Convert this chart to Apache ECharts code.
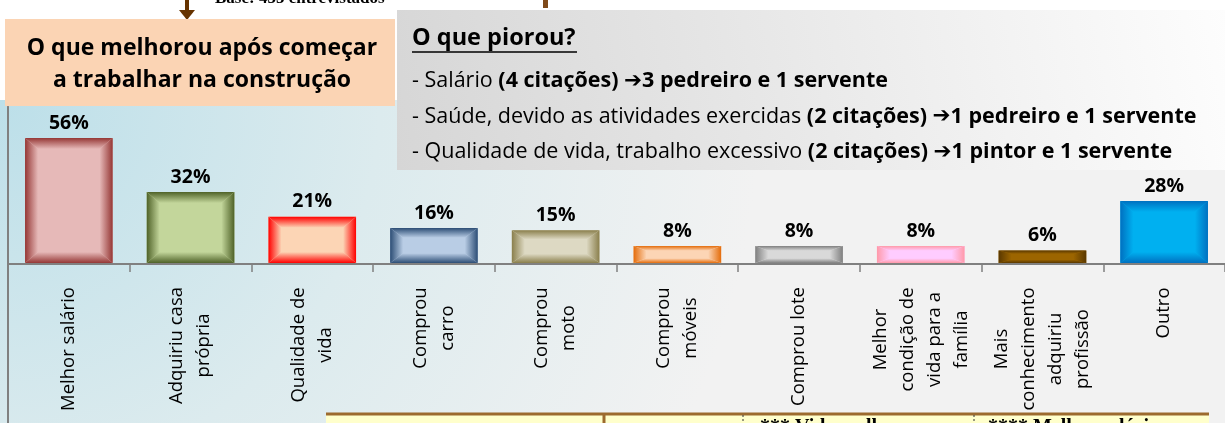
<!DOCTYPE html>
<html>
<head>
<meta charset="utf-8">
<script src="https://cdn.jsdelivr.net/npm/echarts@6/dist/echarts.min.js"></script>
<style>
html,body{margin:0;padding:0;background:#fff;}
#chart{width:1225px;height:423px;}
</style>
</head>
<body>
<div id="chart"></div>
<script>
// ---- data ----
const categories = [
  'Melhor salário',
  'Adquiriu casa\nprópria',
  'Qualidade de\nvida',
  'Comprou\ncarro',
  'Comprou\nmoto',
  'Comprou\nmóveis',
  'Comprou lote',
  'Melhor\ncondição de\nvida para a\nfamília',
  'Mais\nconhecimento\nadquiriu\nprofissão',
  'Outro'
];
const values = [56, 32, 21, 16, 15, 8, 8, 8, 6, 28];
const titleLines = ['O que melhorou após começar', 'a trabalhar na construção'];
const piorouTitle = 'O que piorou?';
const piorouRegular = ['- Salário ', '- Saúde, devido as atividades exercidas ', '- Qualidade de vida, trabalho excessivo '];
const piorouBold = ['(4 citações) ', '(2 citações) ', '(2 citações) '];
const piorouResult = ['3 pedreiro e 1 servente', '1 pedreiro e 1 servente', '1 pintor e 1 servente'];
const baseText = 'Base: 455 entrevistados';
const footerTexts = ['*** Vida melhor', '**** Melhor salário'];

// ---- styles ----
const barColors = [
  ['#953735', '#E6B9B8'],
  ['#4F6228', '#C3D69B'],
  ['#FF0000', '#FCD5B5'],
  ['#2C4D75', '#B9CDE5'],
  ['#8A7F4C', '#DDD9C3'],
  ['#E46C0A', '#FCD5B5'],
  ['#7F7F7F', '#D9D9D9'],
  ['#FF99A8', '#FFCCFF'],
  ['#5A3800', '#9C6500'],
  ['#0070C0', '#00B0F0']
];
const LABEL_FONT = '"Open Sans", "Noto Sans", sans-serif';
const LABEL_SIZE = 18.5;
const BOX_SIZE = 21.5;

const chart = echarts.init(document.getElementById('chart'));

// measure widest line of each category label so lines are centred inside the block
const ctx = document.createElement('canvas').getContext('2d');
ctx.font = LABEL_SIZE + 'px "Open Sans"';
const rich = {};
categories.forEach((c, i) => {
  const w = Math.max(...c.split('\n').map(l => ctx.measureText(l).width));
  rich['r' + i] = {width: Math.ceil(w) + 2, align: 'center', fontSize: LABEL_SIZE,
    lineHeight: 27, fontFamily: LABEL_FONT, color: '#000'};
});

function vgrad(a, b) { return new echarts.graphic.LinearGradient(0, 0, 0, 1, [{offset: 0, color: a}, {offset: 1, color: b}]); }
function hgrad(a, b) { return new echarts.graphic.LinearGradient(0, 0, 1, 0, [{offset: 0, color: a}, {offset: 1, color: b}]); }

function renderBar(params, api) {
  const i = api.value(0), v = api.value(1);
  const top = api.coord([i, v]);
  const base = api.coord([i, 0]);
  const band = api.size([1, 0])[0];
  const w = band * 0.72;
  const x0 = top[0] - w / 2, x1 = top[0] + w / 2;
  const y0 = top[1], y1 = base[1] - 1;
  const h = y1 - y0;
  const bx = Math.min(13, w * 0.15);
  const by = Math.min(11, h * 0.28);
  const [edge, center] = barColors[i];
  return {
    type: 'group',
    children: [
      {type: 'rect', shape: {x: x0, y: y0, width: w, height: h}, style: {fill: center}},
      {type: 'polygon', shape: {points: [[x0, y0], [x1, y0], [x1 - bx, y0 + by], [x0 + bx, y0 + by]]}, style: {fill: vgrad(edge, center)}},
      {type: 'polygon', shape: {points: [[x0 + bx, y1 - by], [x1 - bx, y1 - by], [x1, y1], [x0, y1]]}, style: {fill: vgrad(center, edge)}},
      {type: 'polygon', shape: {points: [[x0, y0], [x0 + bx, y0 + by], [x0 + bx, y1 - by], [x0, y1]]}, style: {fill: hgrad(edge, center)}},
      {type: 'polygon', shape: {points: [[x1 - bx, y0 + by], [x1, y0], [x1, y1], [x1 - bx, y1 - by]]}, style: {fill: hgrad(center, edge)}},
      {type: 'text', style: {text: v + '%', x: top[0], y: y0 - 5, align: 'center', verticalAlign: 'bottom',
        fontSize: 19.5, fontWeight: 'bold', fontFamily: LABEL_FONT, fill: '#000'}}
    ]
  };
}

const option = {
  animation: false,
  backgroundColor: '#ffffff',
  grid: {left: 8, width: 1222, top: 106.5, bottom: 159, containLabel: false},
  xAxis: {
    type: 'category',
    data: categories,
    axisLine: {lineStyle: {color: '#808080', width: 2}},
    axisTick: {show: true, length: 8, lineStyle: {color: '#808080', width: 1.5}},
    axisLabel: {
      rotate: 90, margin: 22, interval: 0,
      formatter: (val, idx) => val.split('\n').map(l => '{r' + idx + '|' + l + '}').join('\n'),
      rich: rich
    }
  },
  yAxis: {
    type: 'value', min: 0, max: 70,
    axisLine: {show: true, lineStyle: {color: '#808080', width: 2}},
    axisTick: {show: false}, axisLabel: {show: false}, splitLine: {show: false}
  },
  series: [{
    type: 'custom',
    renderItem: renderBar,
    encode: {x: 0, y: 1},
    data: values.map((v, i) => [i, v]),
    z: 5
  }],
  graphic: [
    // background gradient
    {type: 'rect', z: -10, silent: true, shape: {x: 0, y: 100, width: 1225, height: 323},
      style: {fill: {type: 'radial', x: 0, y: 100, r: 760, global: true,
        colorStops: [{offset: 0, color: '#BCDFE9'}, {offset: 0.5, color: '#DCEBEE'}, {offset: 1, color: '#F2F2F2'}]}}},
    // y-axis extension below category axis
    {type: 'line', z: 10, shape: {x1: 8, y1: 264, x2: 8, y2: 423}, style: {stroke: '#808080', lineWidth: 2}},
    // top cut text and arrows
    {type: 'text', z: 10, style: {text: baseText, x: 215, y: 7, verticalAlign: 'bottom',
      font: 'bold 17px "Liberation Serif", serif', fill: '#000'}},
    {type: 'line', z: 10, shape: {x1: 187, y1: 0, x2: 187, y2: 11}, style: {stroke: '#663300', lineWidth: 4}},
    {type: 'polygon', z: 10, shape: {points: [[179, 10], [195, 10], [187, 20]]}, style: {fill: '#663300'}},
    {type: 'rect', z: 10, shape: {x: 543, y: 0, width: 5, height: 8}, style: {fill: '#7F4A1A'}},
    // title box
    {type: 'rect', z: 20, shape: {x: 5, y: 19, width: 390, height: 87}, style: {fill: '#FBD4B4'}},
    {type: 'text', z: 21, style: {text: titleLines.join('\n'), x: 202, y: 64, align: 'center', verticalAlign: 'middle',
      fontSize: 23, fontWeight: 'bold', fontFamily: LABEL_FONT, lineHeight: 32, fill: '#000'}},
    // "O que piorou?" box
    {type: 'rect', z: 20, shape: {x: 397, y: 10, width: 830, height: 160},
      style: {fill: new echarts.graphic.LinearGradient(1, 0, 0, 1, [{offset: 0, color: '#FDFDFD'}, {offset: 1, color: '#D6D6D6'}])}},
    {type: 'text', z: 21, style: {text: piorouTitle, x: 412, y: 38, verticalAlign: 'middle',
      fontSize: 23.5, fontWeight: 'bold', fontFamily: LABEL_FONT, fill: '#000'}},
    {type: 'line', z: 21, shape: {x1: 412, y1: 52, x2: 577, y2: 52}, style: {stroke: '#000', lineWidth: 1.5}},
    ...piorouRegular.map((r, i) => ({
      type: 'text', z: 21,
      style: {
        text: '{n|' + r + '}{b|' + piorouBold[i] + '}{a|➔}{b|' + piorouResult[i] + '}',
        x: 412, y: 81 + i * 35.5, verticalAlign: 'middle',
        rich: {
          n: {fontSize: BOX_SIZE, fontFamily: LABEL_FONT, fill: '#000'},
          b: {fontSize: BOX_SIZE, fontWeight: 'bold', fontFamily: LABEL_FONT, fill: '#000'},
          a: {fontSize: BOX_SIZE, fontWeight: 'bold', fontFamily: '"DejaVu Sans", sans-serif', fill: '#000'}
        }
      }
    })),
    // bottom strip (cut off)
    {type: 'rect', z: 20, shape: {x: 326, y: 414, width: 883, height: 10}, style: {fill: '#FFFFCC'}},
    {type: 'line', z: 21, shape: {x1: 326, y1: 414, x2: 1209, y2: 414}, style: {stroke: '#9C6A2E', lineWidth: 3}},
    {type: 'line', z: 21, shape: {x1: 604, y1: 414, x2: 604, y2: 423}, style: {stroke: '#9C6A2E', lineWidth: 3}},
    {type: 'line', z: 21, shape: {x1: 743, y1: 415, x2: 743, y2: 423}, style: {stroke: '#333', lineWidth: 1, lineDash: [2, 2]}},
    {type: 'line', z: 21, shape: {x1: 974, y1: 415, x2: 974, y2: 423}, style: {stroke: '#333', lineWidth: 1, lineDash: [2, 2]}},
    {type: 'text', z: 21, style: {text: footerTexts[0], x: 760, y: 418, verticalAlign: 'top',
      font: 'bold 20px "Liberation Serif", serif', fill: '#000'}},
    {type: 'text', z: 21, style: {text: footerTexts[1], x: 988, y: 418, verticalAlign: 'top',
      font: 'bold 20px "Liberation Serif", serif', fill: '#000'}}
  ]
};
chart.setOption(option);
</script>
</body>
</html>
